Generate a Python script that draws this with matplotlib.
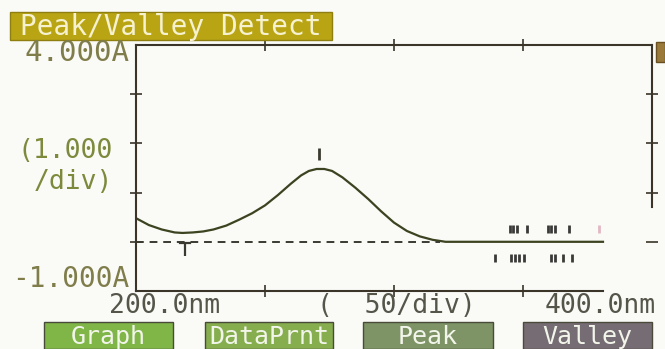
import numpy as np
import matplotlib.pyplot as plt
from matplotlib.patches import Rectangle

# Spectrum (nm, absorbance)
wavelength = [200, 205, 210, 215, 218, 222, 226, 230, 235, 240, 245, 250, 255, 260,
              264, 267, 270, 273, 276, 280, 285, 290, 295, 300, 305, 310, 315, 320, 340, 360, 381]
absorbance = [0.48, 0.34, 0.25, 0.19, 0.18, 0.19, 0.21, 0.25, 0.33, 0.45, 0.58, 0.74, 0.95, 1.18,
              1.35, 1.44, 1.48, 1.48, 1.44, 1.31, 1.10, 0.87, 0.62, 0.39, 0.22, 0.11, 0.04, 0.0, 0.0, 0.0, 0.0]

# detected peak / valley markers
peak_nm = [271]
valley_nm = [219]
upper_marks = [345.0, 346.2, 347.6, 351.6, 359.8, 361.0, 362.4, 368.0]
lower_marks = [339.1, 345.3, 346.9, 348.4, 350.4, 360.9, 362.5, 365.6, 368.8]
faint_mark = [379.3]

y_labels = ["4.000A", "(1.000", "/div)", "-1.000A"]
x_labels = ["200.0nm", "(  50/div)", "400.0nm"]
buttons = ["Graph", "DataPrnt", "Peak", "Valley"]
button_colors = ["#80b548", "#86ad4e", "#7e9466", "#766c74"]

W, H = 665, 349
fig = plt.figure(figsize=(W / 100, H / 100), dpi=100)
fig.patch.set_facecolor("#fafaf7")
mono = "DejaVu Sans Mono"
ink = "#3a3528"


def px(x, y):
    return x / W, 1 - y / H


# plot box
ax = fig.add_axes([136 / W, 1 - 291 / H, (652 - 136) / W, (291 - 45) / H])
ax.set_facecolor("none")
ax.set_xlim(200, 400)
ax.set_ylim(-1, 4)
for s in ax.spines.values():
    s.set_color(ink)
    s.set_linewidth(1.5)
ax.spines["bottom"].set_bounds(200, 381)
ax.spines["right"].set_bounds(0.7, 4)
ax.set_xticks([250, 300, 350])
ax.set_yticks([0, 1, 2, 3])
ax.tick_params(direction="inout", length=8, width=1.2, color=ink,
               top=True, right=True, labelleft=False, labelbottom=False)

# curve and baseline
ax.plot(wavelength, absorbance, color="#3b4320", linewidth=1.6)
ax.plot([200, 318], [0, 0], color="#3b3a30", linewidth=1.4, linestyle=(0, (4, 3)))

# markers
ax.vlines(peak_nm, 1.67, 1.91, color="#3a3a30", linewidth=2)
ax.vlines(valley_nm, -0.28, -0.03, color="#3a3a30", linewidth=1.6)
ax.plot([217, 221], [-0.03, -0.03], color="#3a3a30", linewidth=1.6)
ax.vlines(upper_marks, 0.18, 0.35, color="#3a3a38", linewidth=2)
ax.vlines(lower_marks, -0.41, -0.24, color="#3a3a38", linewidth=2)
ax.vlines(faint_mark, 0.18, 0.35, color="#e2b8c4", linewidth=2)

# title bar
fig.patches.append(Rectangle(px(10, 40), 322 / W, 28 / H, transform=fig.transFigure,
                             facecolor="#b9a514", edgecolor="#8f7e10", linewidth=1))
fig.text(*px(20, 27), "Peak/Valley Detect", family=mono, fontsize=20,
         color="#f6f1cf", va="center", ha="left")

# small icon top right
fig.patches.append(Rectangle(px(656, 62), 9 / W, 20 / H, transform=fig.transFigure,
                             facecolor="#9a7a3a", edgecolor="#6a5020", linewidth=1))

# y labels
yl_col = "#7f7d4a"
fig.text(*px(129, 53), y_labels[0], family=mono, fontsize=21, color=yl_col, ha="right", va="center")
fig.text(*px(113, 151), y_labels[1], family=mono, fontsize=19, color="#7d8a3c", ha="right", va="center")
fig.text(*px(113, 182), y_labels[2], family=mono, fontsize=19, color="#7d8a3c", ha="right", va="center")
fig.text(*px(129, 279), y_labels[3], family=mono, fontsize=20, color=yl_col, ha="right", va="center")

# x labels
xl_col = "#55554a"
fig.text(*px(165, 306), x_labels[0], family=mono, fontsize=19, color=xl_col, ha="center", va="center")
fig.text(*px(396, 306), x_labels[1], family=mono, fontsize=19, color=xl_col, ha="center", va="center")
fig.text(*px(656, 306), x_labels[2], family=mono, fontsize=19, color=xl_col, ha="right", va="center")

# soft-key buttons
bx = [(44, 173), (205, 333), (363, 493), (523, 652)]
for (x0, x1), name, c in zip(bx, buttons, button_colors):
    fig.patches.append(Rectangle(px(x0, 349), (x1 - x0) / W, 27 / H, transform=fig.transFigure,
                                 facecolor=c, edgecolor="#4a4a3a", linewidth=1))
    fig.text(*px((x0 + x1) / 2, 337), name, family=mono, fontsize=18,
             color="#f2f5ea", ha="center", va="center")

fig.savefig("out.png", dpi=100, facecolor=fig.get_facecolor())
